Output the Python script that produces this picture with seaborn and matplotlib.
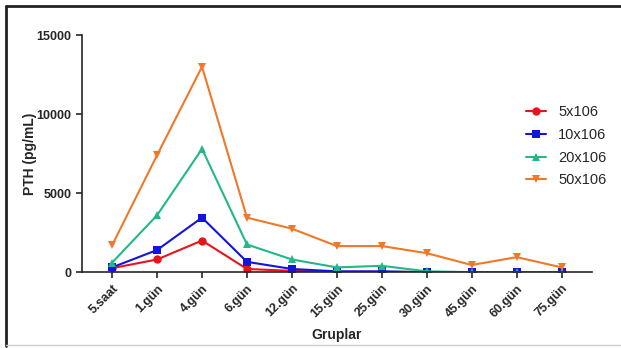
import pandas as pd
import numpy as np
import seaborn as sns
import matplotlib.pyplot as plt
from matplotlib.lines import Line2D

# data
groups = ['5.saat', '1.gün', '4.gün', '6.gün', '12.gün', '15.gün',
          '25.gün', '30.gün', '45.gün', '60.gün', '75.gün']
dose_5 = [250, 800, 2000, 200, 80, 20, 20, 0, 0, 0, 0]
dose_10 = [300, 1400, 3450, 650, 200, 50, 50, 0, 0, 0, 0]
dose_20 = [600, 3600, 7800, 1750, 800, 300, 400, 50, 0, 0, 0]
dose_50 = [1700, 7400, 13000, 3450, 2750, 1650, 1650, 1200, 450, 950, 300]
labels = ['5x106', '10x106', '20x106', '50x106']

df = pd.concat([
    pd.DataFrame({'x': np.arange(len(groups)), 'PTH': vals, 'grup': lab})
    for vals, lab in zip([dose_5, dose_10, dose_20, dose_50], labels)
])

sns.set_style('ticks')
plt.rcParams['font.family'] = ['Liberation Sans', 'DejaVu Sans']

palette = dict(zip(labels, ['#e8141c', '#1414dc', '#22b888', '#f07828']))
markers = dict(zip(labels, ['o', 's', '^', 'v']))

fig = plt.figure(figsize=(6.21, 3.48), dpi=100)
ax = fig.add_axes([0.132, 0.218, 0.821, 0.681])

sns.lineplot(data=df, x='x', y='PTH', hue='grup', style='grup',
             palette=palette, markers=markers, dashes=False,
             markersize=6, linewidth=1.5, markeredgewidth=0, ax=ax)

ax.set_xlim(-0.67, 10.67)
ax.set_ylim(0, 15000)
ax.set_yticks([0, 5000, 10000, 15000])
ax.set_xticks(np.arange(len(groups)))
ax.set_xticklabels(groups, rotation=45, ha='right', rotation_mode='anchor')
for t in ax.get_xticklabels() + ax.get_yticklabels():
    t.set_fontweight('bold')
    t.set_fontsize(9)
ax.set_xlabel('Gruplar', fontsize=10, fontweight='bold', labelpad=6)
ax.set_ylabel('PTH (pg/mL)', fontsize=10, fontweight='bold', labelpad=0)
sns.despine(ax=ax)
for s in ['left', 'bottom']:
    ax.spines[s].set_linewidth(1.2)
ax.tick_params(width=1.2, length=4)

ax.legend(title=None, frameon=False, fontsize=10.5, handlelength=1.4,
          loc='upper left', bbox_to_anchor=(0.845, 0.76), labelspacing=0.6)

# outer frame: dark top/left, light bottom
fig.add_artist(Line2D([0.009, 1.0], [0.982, 0.982], transform=fig.transFigure,
                      color='#222222', linewidth=2))
fig.add_artist(Line2D([0.009, 0.009], [0.006, 0.982], transform=fig.transFigure,
                      color='#222222', linewidth=2))
fig.add_artist(Line2D([0.009, 1.0], [0.008, 0.008], transform=fig.transFigure,
                      color='#cccccc', linewidth=1))

fig.savefig('out.png', dpi=100)
